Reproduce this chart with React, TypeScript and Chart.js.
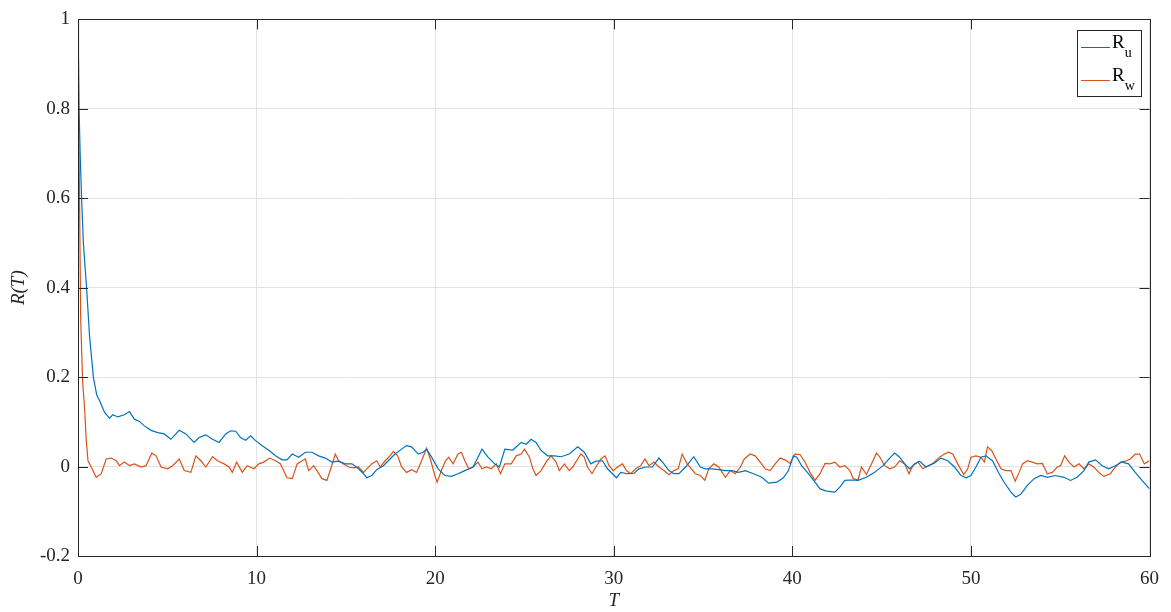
import React, { useEffect, useRef } from "react";
import { Chart, registerables } from "chart.js";

Chart.register(...registerables);

// R_u (blue) autocorrelation samples: lag T and value
const ruT = [0, 0.06, 0.12, 0.2, 0.3, 0.48, 0.65, 0.86, 1.05, 1.21, 1.49, 1.77, 1.95, 2.23, 2.6, 2.88, 3.16, 3.44, 3.72, 4.09, 4.46, 4.83, 5.2, 5.67, 6.04, 6.5, 6.78, 7.16, 7.53, 7.9, 8.27, 8.55, 8.83, 9.1, 9.39, 9.67, 9.94, 10.3, 10.7, 11.06, 11.43, 11.7, 12.0, 12.36, 12.73, 13.1, 13.48, 13.85, 14.22, 14.59, 14.96, 15.34, 15.71, 15.99, 16.17, 16.45, 16.73, 17.1, 17.47, 17.75, 18.12, 18.4, 18.68, 19.05, 19.33, 19.52, 19.8, 20.17, 20.54, 20.91, 21.28, 21.66, 22.12, 22.4, 22.62, 22.96, 23.33, 23.6, 23.9, 24.35, 24.82, 25.1, 25.37, 25.65, 25.93, 26.3, 26.68, 27.05, 27.51, 27.98, 28.35, 28.72, 29.0, 29.37, 29.65, 29.93, 30.15, 30.39, 30.76, 31.14, 31.41, 31.79, 32.16, 32.53, 32.81, 33.09, 33.37, 33.65, 34.02, 34.48, 34.85, 35.13, 35.5, 35.88, 36.25, 36.62, 36.99, 37.36, 37.83, 38.29, 38.67, 39.13, 39.5, 39.78, 40.06, 40.25, 40.52, 40.9, 41.27, 41.55, 41.92, 42.38, 42.66, 42.94, 43.31, 43.68, 44.15, 44.61, 45.08, 45.45, 45.73, 46.01, 46.29, 46.57, 46.84, 47.12, 47.49, 47.96, 48.33, 48.7, 49.08, 49.45, 49.73, 50.0, 50.28, 50.56, 50.84, 51.21, 51.58, 51.86, 52.24, 52.51, 52.79, 53.16, 53.54, 53.91, 54.28, 54.74, 55.21, 55.58, 55.95, 56.33, 56.6, 56.98, 57.35, 57.72, 58.09, 58.46, 58.83, 59.2, 59.58, 60.0];
const ruV = [1.0, 0.8, 0.7, 0.6, 0.5, 0.4, 0.29, 0.2, 0.16, 0.147, 0.121, 0.108, 0.116, 0.111, 0.116, 0.123, 0.106, 0.101, 0.091, 0.081, 0.076, 0.073, 0.061, 0.081, 0.073, 0.054, 0.065, 0.071, 0.061, 0.054, 0.073, 0.08, 0.079, 0.065, 0.059, 0.069, 0.058, 0.047, 0.036, 0.024, 0.015, 0.015, 0.028, 0.021, 0.032, 0.032, 0.024, 0.019, 0.01, 0.012, 0.006, 0.006, -0.005, -0.016, -0.025, -0.02, -0.007, 0.002, 0.017, 0.028, 0.039, 0.047, 0.044, 0.028, 0.032, 0.039, 0.021, -0.005, -0.02, -0.022, -0.016, -0.009, -0.001, 0.021, 0.039, 0.021, 0.006, -0.001, 0.039, 0.037, 0.054, 0.05, 0.061, 0.054, 0.036, 0.024, 0.024, 0.022, 0.028, 0.044, 0.032, 0.006, 0.012, 0.013, -0.005, -0.016, -0.025, -0.013, -0.016, -0.015, -0.005, -0.001, -0.001, 0.019, 0.006, -0.009, -0.016, -0.016, -0.001, 0.022, -0.001, -0.005, -0.005, -0.007, -0.009, -0.009, -0.013, -0.009, -0.016, -0.024, -0.037, -0.035, -0.025, -0.009, 0.024, 0.021, 0.002, -0.016, -0.035, -0.05, -0.055, -0.057, -0.046, -0.031, -0.03, -0.031, -0.024, -0.013, 0.002, 0.019, 0.03, 0.021, 0.006, -0.005, 0.006, 0.012, -0.001, 0.008, 0.019, 0.013, -0.001, -0.02, -0.025, -0.02, -0.001, 0.021, 0.024, 0.013, -0.016, -0.035, -0.057, -0.068, -0.062, -0.042, -0.027, -0.02, -0.024, -0.02, -0.024, -0.031, -0.024, -0.009, 0.01, 0.015, 0.002, -0.005, 0.002, 0.01, 0.006, -0.013, -0.031, -0.05];

// R_w (orange) autocorrelation samples: lag T and value
const rwT = [0, 0.03, 0.06, 0.15, 0.26, 0.37, 0.46, 0.56, 0.74, 1.02, 1.3, 1.58, 1.86, 2.14, 2.32, 2.6, 2.88, 3.16, 3.53, 3.81, 4.13, 4.37, 4.65, 5.02, 5.3, 5.67, 5.95, 6.32, 6.6, 6.88, 7.16, 7.53, 7.81, 8.18, 8.46, 8.64, 8.88, 9.2, 9.48, 9.85, 10.13, 10.4, 10.74, 11.06, 11.34, 11.7, 12.0, 12.27, 12.55, 12.73, 12.92, 13.2, 13.38, 13.66, 13.94, 14.18, 14.41, 14.59, 14.87, 15.15, 15.43, 15.71, 15.99, 16.17, 16.45, 16.73, 16.92, 17.2, 17.47, 17.66, 17.9, 18.12, 18.4, 18.68, 18.96, 19.24, 19.52, 19.76, 19.98, 20.11, 20.35, 20.58, 20.76, 21.0, 21.28, 21.47, 21.66, 21.88, 22.12, 22.4, 22.62, 22.86, 23.14, 23.42, 23.66, 23.9, 24.26, 24.54, 24.82, 25.0, 25.28, 25.47, 25.65, 25.93, 26.21, 26.49, 26.77, 26.95, 27.23, 27.51, 27.7, 27.98, 28.16, 28.35, 28.53, 28.78, 29.0, 29.28, 29.52, 29.74, 29.97, 30.21, 30.49, 30.71, 30.95, 31.23, 31.51, 31.75, 31.97, 32.25, 32.53, 32.81, 33.09, 33.37, 33.61, 33.83, 34.11, 34.35, 34.57, 34.85, 35.1, 35.32, 35.6, 35.88, 36.25, 36.53, 36.81, 37.09, 37.31, 37.64, 37.92, 38.2, 38.48, 38.76, 39.04, 39.32, 39.6, 39.87, 40.15, 40.43, 40.71, 40.99, 41.27, 41.55, 41.83, 42.1, 42.38, 42.66, 42.94, 43.22, 43.41, 43.68, 43.87, 44.15, 44.43, 44.71, 44.89, 45.17, 45.45, 45.73, 46.01, 46.29, 46.53, 46.75, 47.03, 47.31, 47.59, 47.87, 48.24, 48.52, 48.74, 48.98, 49.26, 49.6, 49.82, 50.0, 50.28, 50.56, 50.75, 50.93, 51.16, 51.4, 51.68, 51.96, 52.24, 52.48, 52.7, 52.89, 53.16, 53.44, 53.72, 54.0, 54.28, 54.56, 54.84, 55.02, 55.25, 55.49, 55.77, 56.05, 56.33, 56.6, 56.88, 57.16, 57.44, 57.81, 58.09, 58.37, 58.65, 58.93, 59.2, 59.45, 59.71, 60.0];
const rwV = [1.0, 0.8, 0.7, 0.33, 0.19, 0.13, 0.06, 0.013, -0.001, -0.024, -0.016, 0.017, 0.019, 0.013, 0.002, 0.01, 0.002, 0.006, -0.001, 0.002, 0.03, 0.024, -0.001, -0.005, 0.002, 0.017, -0.009, -0.013, 0.024, 0.013, -0.001, 0.022, 0.013, 0.006, -0.001, -0.013, 0.01, -0.013, 0.002, -0.005, 0.006, 0.01, 0.019, 0.013, 0.006, -0.025, -0.027, 0.006, 0.013, 0.017, -0.009, 0.002, -0.009, -0.027, -0.031, -0.001, 0.028, 0.013, 0.006, -0.001, -0.003, -0.001, -0.013, -0.005, 0.006, 0.013, -0.001, 0.013, 0.024, 0.034, 0.024, -0.001, -0.013, -0.007, -0.013, 0.013, 0.041, 0.013, -0.02, -0.035, -0.009, 0.013, 0.021, 0.006, 0.028, 0.032, 0.013, -0.005, -0.001, 0.01, -0.005, -0.001, -0.005, 0.006, -0.016, 0.006, 0.006, 0.024, 0.028, 0.039, 0.021, -0.005, -0.02, -0.009, 0.01, 0.024, 0.01, -0.009, 0.006, -0.009, -0.001, 0.017, 0.028, 0.021, -0.001, -0.016, -0.001, 0.017, 0.024, 0.002, -0.009, -0.001, 0.006, -0.009, -0.016, -0.005, 0.002, 0.017, 0.002, 0.01, -0.001, -0.009, -0.018, -0.009, -0.005, 0.028, 0.006, -0.005, -0.016, -0.02, -0.031, -0.005, 0.006, -0.001, -0.024, -0.009, -0.016, -0.001, 0.017, 0.028, 0.024, 0.01, -0.005, -0.009, 0.006, 0.019, 0.015, 0.007, 0.028, 0.027, 0.01, -0.013, -0.031, -0.016, 0.007, 0.006, 0.01, -0.001, 0.002, -0.009, -0.027, -0.03, -0.001, -0.018, 0.006, 0.03, 0.022, 0.002, -0.005, -0.001, 0.013, 0.006, -0.016, 0.002, 0.01, -0.005, 0.002, 0.007, 0.021, 0.028, 0.032, 0.028, 0.006, -0.018, -0.005, 0.021, 0.024, 0.021, 0.01, 0.044, 0.036, 0.017, -0.005, -0.009, -0.009, -0.033, -0.013, 0.006, 0.013, 0.01, 0.006, 0.007, -0.016, -0.013, -0.001, 0.002, 0.024, 0.01, -0.001, 0.006, -0.005, 0.006, -0.001, -0.013, -0.022, -0.016, -0.001, 0.01, 0.012, 0.017, 0.028, 0.028, 0.006, 0.013];

const xTicks = [0, 10, 20, 30, 40, 50, 60];
const yTicks = [-0.2, 0, 0.2, 0.4, 0.6, 0.8, 1];
const legendSubs = ["u", "w"];
const colors = ["#0072BD", "#D95319"];

const SERIF = "'Liberation Serif', 'Times New Roman', serif";

export default function App() {
  const ref = useRef<HTMLCanvasElement>(null);

  useEffect(() => {
    if (!ref.current) return;

    const framePlugin = {
      id: "frame",
      afterDatasetsDraw(chart: any) {
        const { ctx, chartArea } = chart;
        const { left, right, top, bottom } = chartArea;
        const xs = chart.scales.x;
        const ys = chart.scales.y;
        ctx.save();
        ctx.strokeStyle = "#262626";
        ctx.lineWidth = 1;
        ctx.beginPath();
        const tl = 10;
        xTicks.forEach((v) => {
          const px = Math.round(xs.getPixelForValue(v)) + 0.5;
          ctx.moveTo(px, bottom);
          ctx.lineTo(px, bottom - tl);
          ctx.moveTo(px, top);
          ctx.lineTo(px, top + tl);
        });
        yTicks.forEach((v) => {
          const py = Math.round(ys.getPixelForValue(v)) + 0.5;
          ctx.moveTo(left, py);
          ctx.lineTo(left + tl, py);
          ctx.moveTo(right, py);
          ctx.lineTo(right - tl, py);
        });
        ctx.stroke();
        ctx.strokeRect(Math.round(left) + 0.5, Math.round(top) + 0.5, Math.round(right - left), Math.round(bottom - top));

        // legend
        const bx = 1077, by = 30, bw = 64, bh = 66;
        ctx.fillStyle = "#ffffff";
        ctx.fillRect(bx, by, bw, bh);
        ctx.strokeRect(bx + 0.5, by + 0.5, bw, bh);
        const rows = [47, 80];
        rows.forEach((ry, i) => {
          ctx.strokeStyle = colors[i];
          ctx.lineWidth = 1;
          ctx.beginPath();
          ctx.moveTo(1081, ry + 0.5);
          ctx.lineTo(1110, ry + 0.5);
          ctx.stroke();
          ctx.fillStyle = "#000000";
          ctx.textBaseline = "alphabetic";
          ctx.textAlign = "left";
          ctx.font = `19px ${SERIF}`;
          ctx.fillText("R", 1112, ry + 1);
          const w = ctx.measureText("R").width;
          ctx.font = `14px ${SERIF}`;
          ctx.fillText(legendSubs[i], 1112 + w, ry + 10);
        });
        ctx.restore();
      },
    };

    const chart = new Chart(ref.current, {
      type: "line",
      data: {
        datasets: [
          {
            label: "R_u",
            data: ruT.map((t, i) => ({ x: t, y: ruV[i] })),
            borderColor: colors[0],
            borderWidth: 1.2,
            pointRadius: 0,
            tension: 0,
            fill: false,
          },
          {
            label: "R_w",
            data: rwT.map((t, i) => ({ x: t, y: rwV[i] })),
            borderColor: colors[1],
            borderWidth: 1.2,
            pointRadius: 0,
            tension: 0,
            fill: false,
          },
        ],
      },
      options: {
        responsive: false,
        animation: false,
        layout: { padding: { top: 16, right: 17, left: 0, bottom: 0 } },
        plugins: {
          legend: { display: false },
          tooltip: { enabled: false },
        },
        scales: {
          x: {
            type: "linear",
            min: 0,
            max: 60,
            afterBuildTicks: (s: any) => {
              s.ticks = xTicks.map((v) => ({ value: v }));
            },
            afterFit: (s: any) => {
              s.height = 56;
            },
            grid: { color: "#e3e3e3", lineWidth: 1, drawTicks: false },
            border: { display: false },
            ticks: {
              padding: 12,
              color: "#262626",
              font: { family: SERIF, size: 19 },
              callback: (v: any) => String(v),
              maxRotation: 0,
            },
            title: {
              display: true,
              text: "T",
              color: "#262626",
              font: { family: SERIF, size: 19, style: "italic" },
              padding: { top: 0, bottom: 0 },
            },
          },
          y: {
            type: "linear",
            min: -0.2,
            max: 1,
            afterBuildTicks: (s: any) => {
              s.ticks = yTicks.map((v) => ({ value: v }));
            },
            afterFit: (s: any) => {
              s.width = 78;
            },
            grid: { color: "#e3e3e3", lineWidth: 1, drawTicks: false },
            border: { display: false },
            ticks: {
              padding: 8,
              color: "#262626",
              font: { family: SERIF, size: 19 },
              callback: (v: any) => String(Math.round(v * 10) / 10),
            },
            title: {
              display: true,
              text: "R(T)",
              color: "#262626",
              font: { family: SERIF, size: 19, style: "italic" },
              padding: { top: 8, bottom: 0 },
            },
          },
        },
      },
      plugins: [framePlugin],
    } as any);

    return () => chart.destroy();
  }, []);

  return (
    <div style={{ position: "fixed", left: 0, top: 0, width: 1171, height: 612, background: "#fff" }}>
      <canvas ref={ref} width={1171} height={612} style={{ display: "block" }} />
    </div>
  );
}
